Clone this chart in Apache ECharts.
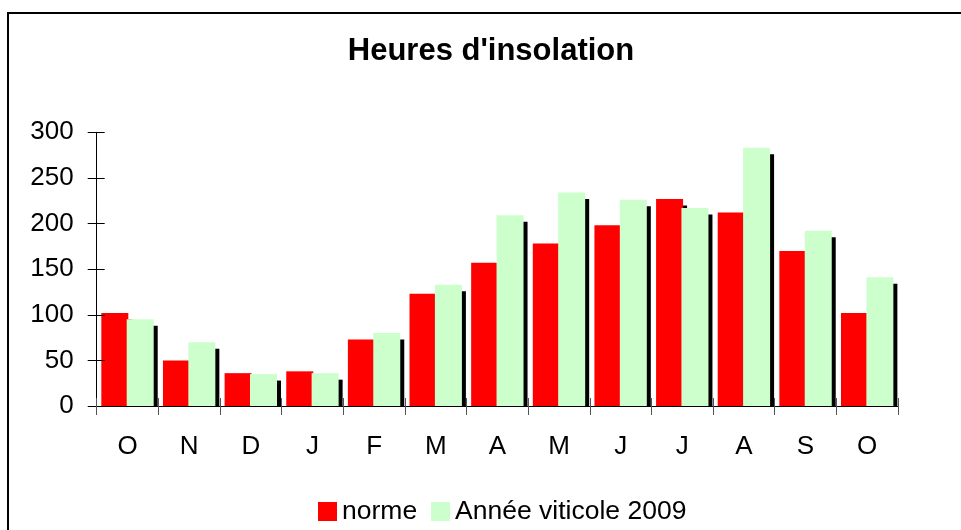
<!DOCTYPE html>
<html>
<head>
<meta charset="utf-8">
<script src="https://cdn.jsdelivr.net/npm/echarts@6/dist/echarts.min.js"></script>
<style>
html,body{margin:0;padding:0;background:#fff;}
#chart{width:961px;height:530px;}
</style>
</head>
<body>
<div id="chart"></div>
<script>
var categories = ['O', 'N', 'D', 'J', 'F', 'M', 'A', 'M', 'J', 'J', 'A', 'S', 'O'];
var normeValues = [102, 50, 36, 38, 73, 123, 157, 178, 198, 227, 212, 170, 102];
var anneeValues = [95, 70, 35, 36, 80, 133, 209, 234, 226, 217, 283, 192, 141];
var seriesNames = ['norme', 'Année viticole 2009'];
var titleText = "Heures d'insolation";

var FONT = '"Liberation Sans", Arial, sans-serif';
var chart = echarts.init(document.getElementById('chart'), null, {renderer: 'canvas'});

var shadow = {shadowColor: '#000', shadowBlur: 0, shadowOffsetX: 4, shadowOffsetY: 6.5};

var option = {
  animation: false,
  backgroundColor: '#fff',
  title: {
    text: titleText,
    left: 491,
    textAlign: 'center',
    top: 36,
    padding: 0,
    textStyle: {fontFamily: FONT, fontSize: 31, fontWeight: 'bold', color: '#000'}
  },
  legend: {
    left: 318,
    top: 498,
    padding: 0,
    itemWidth: 19,
    itemHeight: 19,
    itemGap: 14,
    icon: 'rect',
    data: seriesNames,
    textStyle: {fontFamily: FONT, fontSize: 26.5, color: '#000', lineHeight: 26}
  },
  grid: {left: 96.7, right: 63, top: 132.3, bottom: 124, containLabel: false},
  xAxis: [{
    type: 'category',
    data: categories,
    z: 10,
    axisLine: {lineStyle: {color: '#000', width: 1}},
    axisTick: {show: true, inside: false, length: 9, lineStyle: {color: '#555', width: 1}},
    axisLabel: {fontFamily: FONT, fontSize: 26, color: '#000', margin: 28}
  }, {
    type: 'category',
    data: categories,
    position: 'bottom',
    z: 10,
    axisLine: {show: false},
    axisTick: {show: true, inside: true, length: 8, lineStyle: {color: '#555', width: 1}},
    axisLabel: {show: false}
  }],
  yAxis: [{
    type: 'value',
    min: 0, max: 300, interval: 50,
    z: 10,
    axisLine: {show: true, lineStyle: {color: '#000', width: 1}},
    axisTick: {show: true, inside: false, length: 9, lineStyle: {color: '#000', width: 1}},
    splitLine: {show: false},
    axisLabel: {fontFamily: FONT, fontSize: 26, color: '#000', margin: 23}
  }, {
    type: 'value',
    min: 0, max: 300, interval: 50,
    position: 'left',
    z: 10,
    axisLine: {show: false},
    axisTick: {show: true, inside: true, length: 8, lineStyle: {color: '#000', width: 1}},
    splitLine: {show: false},
    axisLabel: {show: false}
  }],
  graphic: [{
    type: 'rect',
    z: 100,
    shape: {x: 8, y: 13, width: 1100, height: 700},
    style: {fill: 'none', stroke: '#000', lineWidth: 2}
  }, {
    type: 'rect',
    z: 5,
    shape: {x: 97, y: 406.5, width: 810, height: 9},
    style: {fill: '#fff'}
  }],
  series: [{
    name: seriesNames[0],
    type: 'bar',
    z: 2,
    data: normeValues,
    barWidth: 27,
    barGap: '-6%',
    itemStyle: Object.assign({color: '#ff0000'}, shadow)
  }, {
    name: seriesNames[1],
    type: 'bar',
    z: 2,
    data: anneeValues,
    barWidth: 27,
    barGap: '-6%',
    itemStyle: Object.assign({color: '#ccffcc'}, shadow)
  }]
};
chart.setOption(option);
</script>
</body>
</html>
